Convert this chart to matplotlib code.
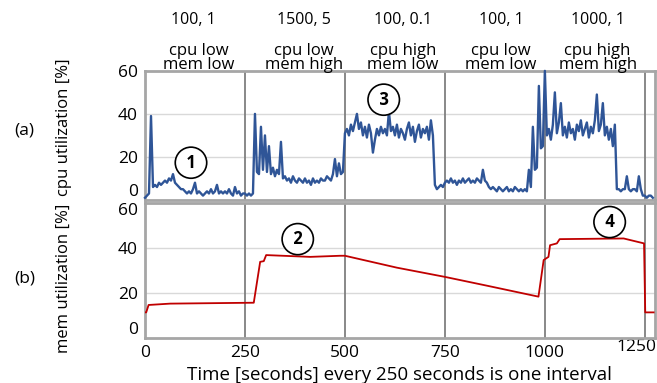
import numpy as np
import matplotlib.pyplot as plt
import matplotlib.transforms as mtransforms

plt.rcParams['font.family'] = ['Open Sans', 'DejaVu Sans']

# cpu utilization, one reading every 5 seconds
cpu_t = np.arange(0, 1275, 5)
cpu_v = [
    1, 2, 3, 39, 6, 7, 6, 8, 7, 8,
    9, 8, 10, 9, 12, 8, 7, 6, 5, 5,
    4, 3, 4, 3, 5, 8, 3, 4, 3, 2,
    3, 4, 3, 5, 3, 4, 7, 3, 4, 3,
    4, 3, 5, 3, 2, 6, 3, 4, 2, 3,
    3, 2, 3, 2, 3, 40, 13, 12, 34, 14,
    30, 13, 25, 12, 15, 11, 14, 12, 27, 10,
    11, 9, 10, 8, 11, 9, 8, 10, 9, 8,
    10, 8, 9, 7, 10, 8, 9, 8, 10, 9,
    9, 11, 10, 9, 12, 19, 11, 17, 12, 13,
    31, 33, 30, 35, 32, 36, 40, 33, 36, 30,
    34, 29, 35, 31, 22, 28, 33, 30, 34, 31,
    33, 30, 41, 32, 34, 30, 35, 29, 33, 31,
    28, 33, 36, 30, 34, 27, 32, 35, 29, 33,
    31, 34, 28, 37, 30, 7, 5, 6, 7, 6,
    8, 9, 8, 10, 8, 9, 7, 9, 8, 10,
    8, 9, 10, 8, 9, 8, 10, 9, 8, 14,
    9, 8, 6, 5, 6, 5, 4, 6, 5, 4,
    5, 6, 4, 5, 4, 6, 5, 4, 5, 4,
    5, 4, 14, 6, 34, 14, 15, 53, 24, 25,
    60, 30, 33, 28, 35, 50, 31, 36, 45, 30,
    34, 29, 36, 31, 33, 28, 35, 32, 37, 30,
    33, 36, 29, 34, 31, 37, 49, 32, 35, 45,
    30, 34, 28, 33, 25, 35, 5, 5, 4, 5,
    5, 11, 5, 4, 5, 5, 4, 11, 5, 2,
    2, 1, 2, 2, 1,
]

# memory utilization breakpoints
mem_t = [0, 3, 9, 63, 272, 288, 297, 303, 413, 488, 500, 630, 750, 860,
         984, 997, 1009, 1013, 1030, 1037, 1197, 1248, 1251, 1272]
mem_v = [11.4, 11.4, 14.7, 15.3, 15.7, 33.9, 34.2, 36.9, 36.1, 36.6, 36.6,
         31.3, 27.2, 23.1, 18.4, 34.7, 36.1, 41.3, 42.1, 44.0, 44.3, 42.1,
         11.4, 11.4]

intervals = [250, 500, 750, 1000, 1250]
params = ["100, 1", "1500, 5", "100, 0.1", "100, 1", "1000, 1"]
param_x = [120, 397, 645, 890, 1132]
kinds = ["cpu low\nmem low", "cpu low\nmem high", "cpu high\nmem low",
         "cpu low\nmem low", "cpu high\nmem high"]
kind_x = [135, 397, 645, 890, 1132]

fig = plt.figure(figsize=(6.57, 3.83), dpi=100)
ax1 = fig.add_axes([0.2207, 0.478, 0.776, 0.337])
ax2 = fig.add_axes([0.2207, 0.1175, 0.776, 0.352])

for ax in (ax1, ax2):
    ax.set_xlim(0, 1275)
    ax.set_ylim(0, 60)
    ax.set_yticks([0, 20, 40, 60])
    ax.set_xticks([0, 250, 500, 750, 1000, 1250])
    for y in (20, 40):
        ax.axhline(y, color='#d9d9d9', lw=1, zorder=0)
    for x in intervals:
        ax.axvline(x, color='#7f7f7f', lw=1.3, zorder=1)
    for s in ax.spines.values():
        s.set_color('#a6a6a6')
        s.set_linewidth(2)
    ax.tick_params(length=0, labelsize=12.5, pad=5)
    # raise the "0" label like in the original
    ax.get_yticklabels()[0].set_va('bottom')

ax2.get_yticklabels()[-1].set_va('top')
last = ax2.get_xticklabels()[-1]
last.set_transform(last.get_transform() + mtransforms.ScaledTranslation(-8 / 100, 6 / 100, fig.dpi_scale_trans))

ax1.plot(cpu_t, cpu_v, color='#2f5597', lw=1.7, zorder=3, clip_on=False)
ax1.set_xticklabels([])
ax2.plot(mem_t, mem_v, color='#c00000', lw=1.3, zorder=3)

ax1.set_ylabel("cpu utilization [%]", fontsize=12)
ax2.set_ylabel("mem utilization [%]", fontsize=12)
ax1.yaxis.set_label_coords(-0.143, 0.56)
ax2.yaxis.set_label_coords(-0.143, 0.44)
ax2.set_xlabel("Time [seconds] every 250 seconds is one interval", fontsize=13.5, labelpad=4)

fig.text(0.037, 0.658, "(a)", fontsize=12.5, ha='center', va='center')
fig.text(0.037, 0.274, "(b)", fontsize=12.5, ha='center', va='center')

trans = mtransforms.blended_transform_factory(ax1.transData, ax1.transAxes)
for x, s in zip(param_x, params):
    ax1.text(x, 1.395, s, transform=trans, ha='center', va='center', fontsize=11.5)
for x, s in zip(kind_x, kinds):
    ax1.text(x, 1.10, s, transform=trans, ha='center', va='center', fontsize=12,
             linespacing=0.9)

circ = dict(boxstyle='ellipse,pad=0.12', fc='white', ec='black', lw=1.2)
ax1.text(115, 17.3, " 1 ", ha='center', va='center', fontsize=12, fontweight='bold', bbox=circ, zorder=5)
ax1.text(597, 46.6, " 3 ", ha='center', va='center', fontsize=12, fontweight='bold', bbox=circ, zorder=5)
ax2.text(382, 44.0, " 2 ", ha='center', va='center', fontsize=12, fontweight='bold', bbox=circ, zorder=5)
ax2.text(1162, 51.6, " 4 ", ha='center', va='center', fontsize=12, fontweight='bold', bbox=circ, zorder=5)

fig.savefig("out.png", dpi=100)
